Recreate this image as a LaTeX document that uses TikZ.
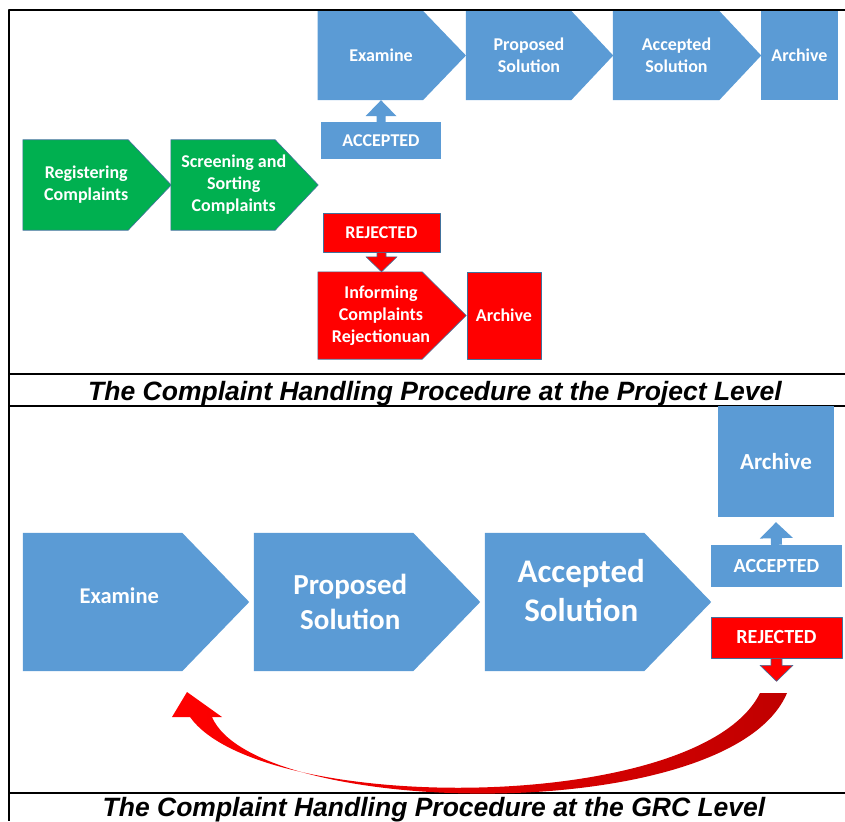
\documentclass[tikz,border=0pt]{standalone}
\usepackage{fontspec}
\setmainfont{Carlito}
\newfontfamily\titlefont{Liberation Sans}
\usetikzlibrary{calc,backgrounds}

\definecolor{blu}{HTML}{5B9BD5}
\definecolor{grn}{HTML}{00B050}
\definecolor{rd}{HTML}{FF0000}
\definecolor{dkrd}{HTML}{C00000}
\definecolor{edge}{HTML}{41719C}

\begin{document}
\begin{tikzpicture}[x=1pt,y=-1pt,line join=round,
	txt/.style 2 args={inner sep=0pt,align=center,text=white,font=\bfseries\fontsize{#1}{#2}\selectfont},
	bluepiece/.style={fill=blu},
	greenpiece/.style={fill=grn,draw=edge,line width=0.6pt},
	redpiece/.style={fill=rd,draw=edge,line width=0.6pt},
	frame/.style={line width=1.8pt},
	title/.style={anchor=base,inner sep=0pt,font=\titlefont\bfseries\itshape\fontsize{26.5}{30}\selectfont},
	% block arrow: shaft half width, head half width, head length
	fat/.style n args={3}{to path={
		($(\tikztostart)!#1!90:(\tikztotarget)$)
		-- ($(\tikztotarget)!#3!(\tikztostart)!#1!90:(\tikztotarget)$)
		-- ($(\tikztotarget)!#3!(\tikztostart)!#2!90:(\tikztotarget)$)
		-- (\tikztotarget)
		-- ($(\tikztotarget)!#3!(\tikztostart)!#2!-90:(\tikztotarget)$)
		-- ($(\tikztotarget)!#3!(\tikztostart)!#1!-90:(\tikztotarget)$)
		-- ($(\tikztostart)!#1!-90:(\tikztotarget)$) -- cycle}}]
	\useasboundingbox (0,0) rectangle (845,821);
	\clip (0,0) rectangle (845,821);

	% table lines
	\draw[frame] (845,10) -- (9,10) -- (9,821) (9,374) -- (845,374) (9,406) -- (845,406) (9,793) -- (845,793);

	% project level
	\node[txt={18}{22},minimum width=126.5,minimum height=90] (reg) at (86.25,185) {Registering\\Complaints};
	\node[txt={18}{22},minimum width=125.5,minimum height=90] (scr) at (233.75,185) {Screening and\\Sorting\\Complaints};
	\node[txt={18}{22},minimum width=126.5,minimum height=89] (exa) at (381,55.5) {Examine};
	\node[txt={18}{22},minimum width=126,minimum height=89] (pro) at (529,55.5) {Proposed\\Solution};
	\node[txt={18}{22},minimum width=127,minimum height=89] (acs) at (676.5,55.5) {Accepted\\Solution};
	\node[txt={18}{22},bluepiece,minimum width=77,minimum height=89] (arc) at (799.5,55.5) {Archive};
	\node[txt={18}{22},bluepiece,minimum width=120,minimum height=37] (acc) at (381,140.5) {ACCEPTED};
	\node[txt={18}{22},redpiece,minimum width=117,minimum height=39] (rej) at (381.5,232.5) {REJECTED};
	\node[txt={18}{22},minimum width=126,minimum height=87] (inf) at (381,315.5) {Informing\\Complaints\\Rejectionuan};
	\node[txt={18}{22},redpiece,minimum width=74,minimum height=87] (arr) at (504,315.5) {Archive};

	\path[bluepiece] (acc.north) to[fat={4.5pt}{15.5pt}{16pt}] (acc.north |- exa.south);
	\path[redpiece] (rej.south) to[fat={4.5pt}{15.5pt}{15pt}] (rej.south |- inf.north);

	\node[title] (t1) at (435,400) {The Complaint Handling Procedure at the Project Level};

	% GRC level
	\node[txt={22.5}{27},minimum width=192.5,minimum height=138] (exa2) at (119.25,602) {Examine\\[-15pt]};
	\node[txt={29}{35},minimum width=192.5,minimum height=138] (pro2) at (350.25,602) {Proposed\\Solution};
	\node[txt={33}{39},minimum width=192.5,minimum height=138] (acs2) at (581.25,602) {Accepted\\Solution\\[-16pt]};
	\node[txt={23}{27},bluepiece,minimum width=116,minimum height=111] (arc2) at (776,461.5) {Archive};
	\node[txt={20}{24},bluepiece,minimum width=131,minimum height=42] (acc2) at (776.5,566) {ACCEPTED};
	\node[txt={20}{24},redpiece,minimum width=131,minimum height=41] (rej2) at (776.5,637.5) {REJECTED};

	\path[bluepiece] (acc2.north) to[fat={5.5pt}{16.5pt}{16pt}] ([yshift=-5pt]arc2.south);
	\path[redpiece] (rej2.south) to[fat={5.5pt}{16.5pt}{16pt}] ([yshift=-23pt]rej2.south);

	% way back to Examine
	\shade[left color=rd,middle color=rd,right color=dkrd] (172,717) -- (187,692) -- (222,717) -- (212,717)
		.. controls (255,818) and (730,828) .. (787,693) -- (760,693)
		.. controls (700,815) and (260,815) .. (190,717) -- cycle;

	\node[title] (t2) at (434,816) {The Complaint Handling Procedure at the GRC Level};

	% pentagon pieces behind the texts
	\begin{scope}[on background layer]
		\foreach \n/\s/\t in {reg/greenpiece/21.5,scr/greenpiece/21.5,exa/bluepiece/21.5,pro/bluepiece/21,acs/bluepiece/21,inf/redpiece/22,exa2/bluepiece/33.5,pro2/bluepiece/33.5,acs2/bluepiece/33.5}
			\path[\s] (\n.north west) -- ([xshift=-\t]\n.north east) -- ([xshift=\t]\n.east) -- ([xshift=-\t]\n.south east) -- (\n.south west) -- cycle;
	\end{scope}
\end{tikzpicture}
\end{document}
